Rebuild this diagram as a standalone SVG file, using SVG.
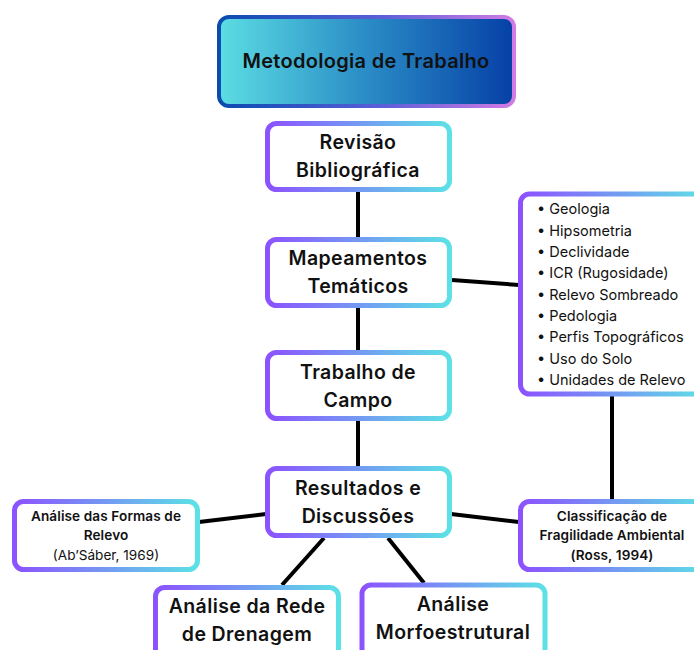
<svg xmlns="http://www.w3.org/2000/svg" width="694" height="650" viewBox="0 0 694 650">
<defs>
<linearGradient id="bd" x1="0" y1="0" x2="1" y2="0">
<stop offset="0" stop-color="#8C52FF"/>
<stop offset="1" stop-color="#5CE1E6"/>
</linearGradient>
<linearGradient id="mf" x1="0" y1="0" x2="1" y2="0">
<stop offset="0" stop-color="#5CDDE3"/>
<stop offset="0.5" stop-color="#2A8CC6"/>
<stop offset="1" stop-color="#0640A6"/>
</linearGradient>
<linearGradient id="ms" x1="0" y1="0" x2="1" y2="0">
<stop offset="0" stop-color="#0B4BB0"/>
<stop offset="0.55" stop-color="#5B5FD8"/>
<stop offset="1" stop-color="#D27BE4"/>
</linearGradient>
</defs>
<style>
.box{fill:#fff;stroke:url(#bd);stroke-width:5}
.h{font-family:Inter,"Liberation Sans",sans-serif;font-weight:600;font-size:19.5px;letter-spacing:0.4px;fill:#111;text-anchor:middle}
.s{font-family:Inter,"Liberation Sans",sans-serif;font-weight:600;font-size:13.6px;letter-spacing:0.1px;fill:#111;text-anchor:middle}
.r{font-family:Inter,"Liberation Sans",sans-serif;font-weight:400;font-size:13.6px;fill:#111;text-anchor:middle}
.li{font-family:Inter,"Liberation Sans",sans-serif;font-weight:400;font-size:14.5px;fill:#111}
.c{stroke:#000;stroke-width:4;fill:none}
</style>
<g id="connectors">
<line class="c" x1="358" y1="190" x2="358" y2="238"/>
<line class="c" x1="358" y1="305" x2="358" y2="352"/>
<line class="c" x1="358" y1="420" x2="358" y2="467"/>
<line class="c" x1="452" y1="280" x2="519" y2="285"/>
<line class="c" x1="612" y1="395" x2="612" y2="500"/>
<line class="c" x1="199" y1="522" x2="266" y2="514"/>
<line class="c" x1="451" y1="514" x2="519" y2="522"/>
<line class="c" x1="324" y1="538" x2="282" y2="585"/>
<line class="c" x1="388" y1="538" x2="424" y2="583"/>
</g>
<g id="n-main">
<rect x="219" y="17" width="295" height="89" rx="10" fill="url(#mf)" stroke="url(#ms)" stroke-width="4"/>
<text class="h" x="366" y="68" style="font-size:20px;letter-spacing:0.3px">Metodologia de Trabalho</text>
</g>
<g id="n-revisao">
<rect class="box" x="267.5" y="123.5" width="182" height="66" rx="9"/>
<text class="h" x="358" y="149">Revisão</text>
<text class="h" x="358" y="177">Bibliográfica</text>
</g>
<g id="n-mapeamentos">
<rect class="box" x="267.5" y="239.5" width="182" height="66" rx="9"/>
<text class="h" x="358" y="265">Mapeamentos</text>
<text class="h" x="358" y="293">Temáticos</text>
</g>
<g id="n-trabalho">
<rect class="box" x="267.5" y="352.5" width="182" height="66" rx="9"/>
<text class="h" x="358" y="379">Trabalho de</text>
<text class="h" x="358" y="407">Campo</text>
</g>
<g id="n-resultados">
<rect class="box" x="267.5" y="468.5" width="182" height="67" rx="9"/>
<text class="h" x="358" y="495">Resultados e</text>
<text class="h" x="358" y="523">Discussões</text>
</g>
<g id="n-lista">
<rect class="box" x="520.5" y="194" width="188" height="200" rx="9"/>
<g class="li">
<text x="537" y="214">•  Geologia</text>
<text x="537" y="235.5">•  Hipsometria</text>
<text x="537" y="257">•  Declividade</text>
<text x="537" y="278">•  ICR (Rugosidade)</text>
<text x="537" y="299.5">•  Relevo Sombreado</text>
<text x="537" y="321">•  Pedologia</text>
<text x="537" y="342">•  Perfis Topográficos</text>
<text x="537" y="363.5">•  Uso do Solo</text>
<text x="537" y="385">•  Unidades de Relevo</text>
</g>
</g>
<g id="n-formas">
<rect class="box" x="14.5" y="501.5" width="183" height="68" rx="9"/>
<text class="s" x="106" y="521">Análise das Formas de</text>
<text class="s" x="106" y="540">Relevo</text>
<text class="r" x="106" y="560">(Ab’Sáber, 1969)</text>
</g>
<g id="n-classificacao">
<rect class="box" x="520.5" y="501.5" width="188" height="68" rx="9"/>
<text class="s" x="612" y="521">Classificação de</text>
<text class="s" x="612" y="540">Fragilidade Ambiental</text>
<text class="s" x="612" y="560">(Ross, 1994)</text>
</g>
<g id="n-rede">
<rect class="box" x="155.5" y="587.5" width="183" height="75" rx="9"/>
<text class="h" x="247" y="613">Análise da Rede</text>
<text class="h" x="247" y="641">de Drenagem</text>
</g>
<g id="n-morfo">
<rect class="box" x="362" y="585" width="183" height="78" rx="9"/>
<text class="h" x="453" y="611">Análise</text>
<text class="h" x="453" y="639">Morfoestrutural</text>
</g>
</svg>
